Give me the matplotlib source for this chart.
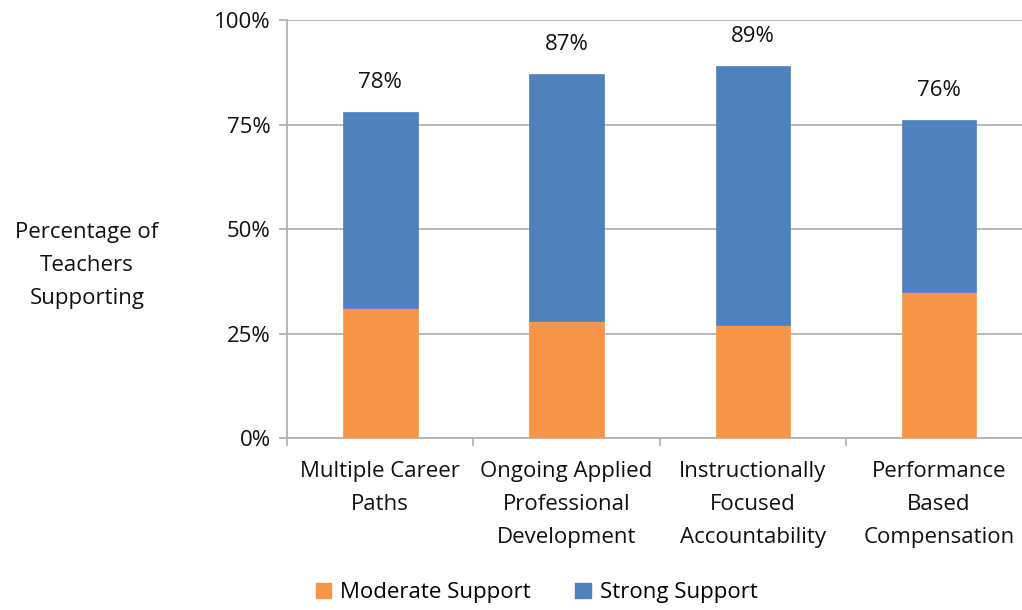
import matplotlib
matplotlib.use("Agg")
import matplotlib.pyplot as plt
from matplotlib.patches import Patch
import numpy as np

categories = ["Multiple Career\nPaths", "Ongoing Applied\nProfessional\nDevelopment",
              "Instructionally\nFocused\nAccountability", "Performance\nBased\nCompensation"]
moderate = [31, 28, 27, 35]
totals = [78, 87, 89, 76]
strong = [t - m for t, m in zip(totals, moderate)]
yticks = [0, 25, 50, 75, 100]

plt.rcParams['font.family'] = ['Open Sans', 'DejaVu Sans']
orange = "#F79646"
blue = "#4F81BD"
grid_c = "#B3B3B3"
fs = 16

fig = plt.figure(figsize=(10.22, 6.10), dpi=100)
ax = fig.add_axes([0.281, 0.282, 0.729, 0.685])
x = np.arange(len(categories))
w = 0.40
ax.bar(x, moderate, w, color=orange, zorder=3, edgecolor=orange, linewidth=0.5)
ax.bar(x, strong, w, bottom=moderate, color=blue, zorder=3, edgecolor=blue, linewidth=0.5)
for xi, t in zip(x, totals):
    ax.annotate(f"{t}%", (xi, t), xytext=(0, 14), textcoords="offset points",
                ha="center", va="bottom", fontsize=fs, color="#111111")

ax.set_xlim(-0.5, len(categories) - 0.5)
ax.set_ylim(0, 100)
ax.set_yticks(yticks)
ax.set_yticklabels([f"{v}%" for v in yticks], fontsize=fs, color="#111111")
ax.yaxis.grid(True, color=grid_c, linewidth=1.3, zorder=0)
ax.set_axisbelow(True)
for s in ["top", "right"]:
    ax.spines[s].set_visible(False)
for s in ["left", "bottom"]:
    ax.spines[s].set_color(grid_c)
    ax.spines[s].set_linewidth(1.3)
ax.tick_params(axis="y", length=6, width=1.3, color=grid_c, pad=6)
ax.set_xticks(np.arange(-0.5, len(categories) + 0.5, 1.0))
ax.set_xticklabels([])
ax.tick_params(axis="x", length=6, width=1.3, color=grid_c)
for xi, c in zip(x, categories):
    ax.text(xi, -5.6, c, ha="center", va="top", fontsize=fs, color="#111111",
            linespacing=1.75, transform=ax.transData)

fig.text(0.085, 0.565, "Percentage of\nTeachers\nSupporting", ha="center", va="center",
         fontsize=fs, color="#111111", linespacing=1.75)

handles = [Patch(color=orange, label="Moderate Support"), Patch(color=blue, label="Strong Support")]
fig.legend(handles=handles, loc="center", bbox_to_anchor=(0.525, 0.028), ncol=2, frameon=False,
           fontsize=fs, handlelength=0.7, handleheight=0.7, handletextpad=0.4, columnspacing=2.0)

fig.savefig("out.png", dpi=100)
